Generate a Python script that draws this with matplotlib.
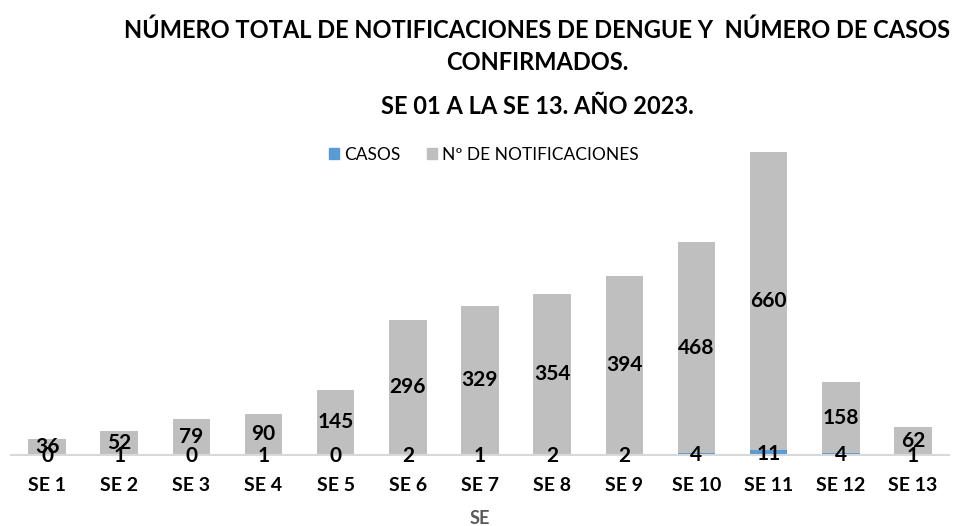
import numpy as np
import matplotlib.pyplot as plt
import matplotlib.patches as mpatches

plt.rcParams['font.family'] = ['Lato', 'DejaVu Sans']

# Data
semanas = ['SE 1', 'SE 2', 'SE 3', 'SE 4', 'SE 5', 'SE 6', 'SE 7',
           'SE 8', 'SE 9', 'SE 10', 'SE 11', 'SE 12', 'SE 13']
casos = [0, 1, 0, 1, 0, 2, 1, 2, 2, 4, 11, 4, 1]
notificaciones = [36, 52, 79, 90, 145, 296, 329, 354, 394, 468, 660, 158, 62]

azul = '#5B9BD5'
gris = '#BFBFBF'


def main():
    fig = plt.figure(figsize=(9.61, 5.26), dpi=100)
    ax = fig.add_axes([11 / 961, 71 / 526, 938 / 961, 316 / 526])

    x = np.arange(len(semanas))
    ax.bar(x, casos, width=0.52, color=azul)
    ax.bar(x, notificaciones, width=0.52, bottom=casos, color=gris)

    # Data labels
    for i in range(len(semanas)):
        ax.annotate(str(casos[i]), (x[i], casos[i] / 2), xytext=(0, -1),
                    textcoords='offset points', ha='center', va='center',
                    fontsize=15, fontweight='bold', color='black')
        ax.text(x[i], casos[i] + notificaciones[i] / 2, str(notificaciones[i]),
                ha='center', va='center', fontsize=15, fontweight='bold',
                color='black')

    ax.set_xlim(-0.5, len(semanas) - 0.5)
    ax.set_ylim(0, 700)
    ax.set_xticks(x)
    ax.set_xticklabels(semanas, fontsize=14, fontweight='bold')
    ax.tick_params(axis='x', length=0, pad=16)
    ax.set_yticks([])
    for s in ['top', 'right', 'left']:
        ax.spines[s].set_visible(False)
    ax.spines['bottom'].set_color('#D9D9D9')
    ax.spines['bottom'].set_linewidth(1.5)

    fig.text(480 / 961, 1 - 518 / 526, 'SE', ha='center', va='center',
             fontsize=13, fontweight='bold', color='#595959')

    # Titles
    fig.text(537 / 961, 1 - 30 / 526,
             'NÚMERO TOTAL DE NOTIFICACIONES DE DENGUE Y  NÚMERO DE CASOS',
             ha='center', va='center', fontsize=17, fontweight='bold')
    fig.text(537 / 961, 1 - 62 / 526, 'CONFIRMADOS.',
             ha='center', va='center', fontsize=17, fontweight='bold')
    fig.text(537 / 961, 1 - 106 / 526, 'SE 01 A LA SE 13. AÑO 2023.',
             ha='center', va='center', fontsize=17, fontweight='bold')

    # Legend
    azul_patch = mpatches.Patch(color=azul, label='CASOS')
    gris_patch = mpatches.Patch(color=gris, label='Nº DE NOTIFICACIONES')
    fig.legend(handles=[azul_patch, gris_patch], loc='center',
               bbox_to_anchor=(484 / 961, 1 - 155 / 526), ncol=2,
               frameon=False, fontsize=12.5, handlelength=0.6,
               handleheight=0.6, handletextpad=0.3, columnspacing=1.5)

    fig.savefig('out.png', dpi=100)


if __name__ == "__main__":
    main()
